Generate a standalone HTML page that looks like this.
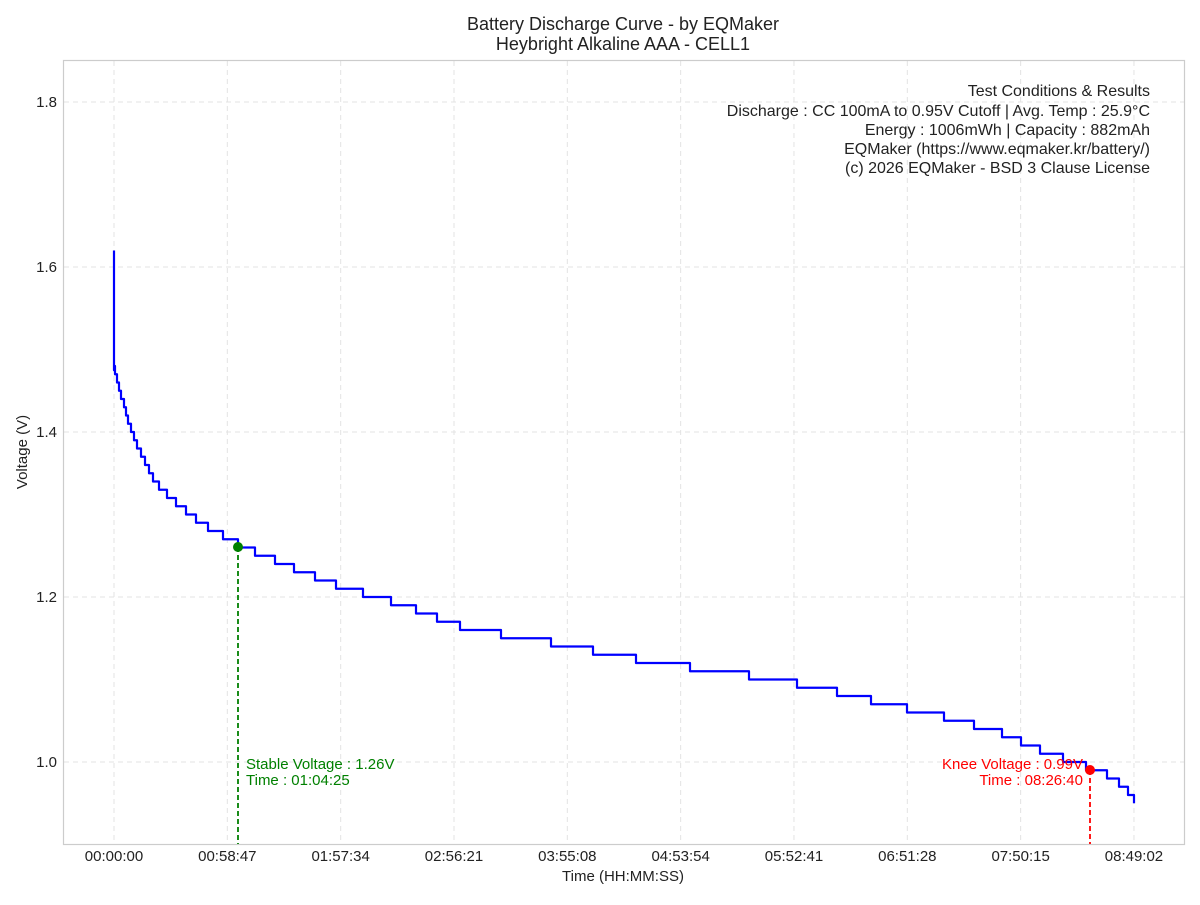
<!DOCTYPE html>
<html><head><meta charset="utf-8"><style>
body{margin:0;background:#fff;}
svg text{font-family:"Liberation Sans","DejaVu Sans",sans-serif;fill:#222;}
</style></head><body>
<svg id="s" width="1200" height="900" xmlns="http://www.w3.org/2000/svg">
<rect width="1200" height="900" fill="#fff"/>
<g id="grid" stroke="#e3e3e3" stroke-width="1" stroke-dasharray="5,4"></g>
<rect x="63.5" y="60.5" width="1121" height="784" fill="none" stroke="#ccc" stroke-width="1.2"/>
<text x="623" y="30" font-size="18" text-anchor="middle">Battery Discharge Curve - by EQMaker</text>
<text x="623" y="50" font-size="18" text-anchor="middle">Heybright Alkaline AAA - CELL1</text>
<g font-size="16" text-anchor="end">
<text x="1150" y="96">Test Conditions &amp; Results</text>
<text x="1150" y="116">Discharge : CC 100mA to 0.95V Cutoff | Avg. Temp : 25.9°C</text>
<text x="1150" y="135">Energy : 1006mWh | Capacity : 882mAh</text>
<text x="1150" y="154">EQMaker (https://www.eqmaker.kr/battery/)</text>
<text x="1150" y="173">(c) 2026 EQMaker - BSD 3 Clause License</text>
</g>
<g id="ticks" font-size="15"></g>
<text x="623" y="881" font-size="15" text-anchor="middle">Time (HH:MM:SS)</text>
<text transform="translate(27,452) rotate(-90)" font-size="15" text-anchor="middle">Voltage (V)</text>
<path id="curve" fill="none" stroke="#0000ff" stroke-width="2.2" stroke-linejoin="round"/>
<line x1="238" y1="547" x2="238" y2="844" stroke="green" stroke-width="1.8" stroke-dasharray="5,3"/>
<circle cx="238" cy="547" r="5" fill="green"/>
<text x="246" y="769" font-size="15" style="fill:green">Stable Voltage : 1.26V</text>
<text x="246" y="785" font-size="15" style="fill:green">Time : 01:04:25</text>
<line x1="1090" y1="770" x2="1090" y2="844" stroke="red" stroke-width="1.8" stroke-dasharray="5,3"/>
<circle cx="1090" cy="770" r="5" fill="red"/>
<text x="1083" y="769" font-size="15" text-anchor="end" style="fill:red">Knee Voltage : 0.99V</text>
<text x="1083" y="785" font-size="15" text-anchor="end" style="fill:red">Time : 08:26:40</text>
</svg>
<script>
var NS="http://www.w3.org/2000/svg";
function Y(v){return 762-(v-1)*825;}
var g=document.getElementById("grid"),t=document.getElementById("ticks");
function el(p,n,a,txt){var e=document.createElementNS(NS,n);for(var k in a)e.setAttribute(k,a[k]);if(txt)e.textContent=txt;p.appendChild(e);}
var lab=["00:00:00","00:58:47","01:57:34","02:56:21","03:55:08","04:53:54","05:52:41","06:51:28","07:50:15","08:49:02"];
for(var i=0;i<10;i++){var x=114+i*113.33;el(g,"line",{x1:x,x2:x,y1:61,y2:844});el(t,"text",{x:x,y:861,"text-anchor":"middle"},lab[i]);}
[1.0,1.2,1.4,1.6,1.8].forEach(function(v){var y=Y(v);el(g,"line",{x1:64,x2:1184,y1:y,y2:y});el(t,"text",{x:57,y:y+5,"text-anchor":"end"},v.toFixed(1));});
var P=[[114,1.475],[117,1.46],[122,1.44],[130,1.405],[140,1.375],[150,1.35],[160,1.333],[170,1.32],[190,1.30],[210,1.283],[238,1.265],[260,1.252],[300,1.232],[340,1.213],[380,1.199],[420,1.183],[455,1.166],[500,1.155],[560,1.143],[630,1.126],[700,1.113],[760,1.103],[820,1.09],[870,1.075],[940,1.056],[1000,1.036],[1040,1.015],[1090,0.993],[1110,0.983],[1125,0.968],[1134,0.955]];
function V(x){for(var i=1;i<P.length;i++){if(x<=P[i][0]){var a=P[i-1],b=P[i];return a[1]+(b[1]-a[1])*(x-a[0])/(b[0]-a[0]);}}return P[P.length-1][1];}
var d="M114,"+Y(1.62)+" L114,"+Y(1.475);var prev=null;
for(var x=114;x<=1134;x+=1){var q=Math.round(V(x)*100)/100;var y=Y(q);
if(prev!==null&&y!==prev){d+=" L"+x+","+prev+" L"+x+","+y;}prev=y;}
d+=" L1134,"+prev+" L1134,"+Y(0.95);
document.getElementById("curve").setAttribute("d",d);
</script>
</body></html>
